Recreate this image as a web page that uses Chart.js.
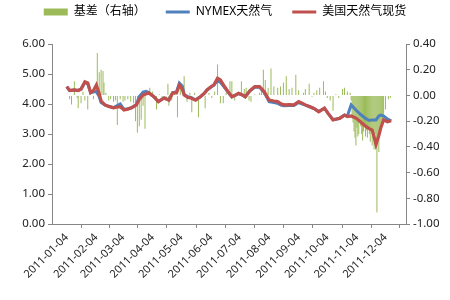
<!DOCTYPE html>
<html>
<head>
<meta charset="utf-8">
<script src="https://cdn.jsdelivr.net/npm/chart.js@4"></script>
<style>
  html, body { margin: 0; padding: 0; background: #fff; }
  #wrap { width: 450px; height: 300px; }
</style>
</head>
<body>
<div id="wrap"><canvas id="mainChart" width="450" height="300"></canvas></div>
<script>
// days counted from 2011-01-04
const monthDays = [0, 31, 59, 90, 120, 151, 181, 212, 243, 273, 304, 334];
const monthLabels = ['2011-01-04', '2011-02-04', '2011-03-04', '2011-04-04', '2011-05-04', '2011-06-04',
  '2011-07-04', '2011-08-04', '2011-09-04', '2011-10-04', '2011-11-04', '2011-12-04'];

const lineDays = [0, 3, 8, 12, 15, 19, 22, 25, 28, 31, 34, 36, 40, 44, 49, 53, 56, 60, 64, 68, 73, 76, 80, 83, 86, 91,
  96, 102, 107, 111, 115, 118, 121, 123, 127, 130, 135, 140, 144, 147, 152, 154, 158, 161, 166, 169, 173, 177, 180,
  184, 187, 192, 197, 202, 207, 212, 217, 221, 225, 228, 233, 238, 243, 247, 250, 255, 259, 264, 270, 274, 279, 283,
  286, 291, 294, 298, 303, 308, 313, 317, 320, 322, 324, 327, 329, 332, 336, 340];

const spotValues = [4.58, 4.45, 4.47, 4.45, 4.5, 4.74, 4.7, 4.38, 4.45, 4.63, 4.35, 4.1, 3.97, 3.92, 3.87, 3.9, 3.91,
  3.8, 3.83, 3.87, 3.97, 4.15, 4.3, 4.33, 4.37, 4.25, 4.08, 4.2, 4.13, 4.37, 4.37, 4.63, 4.5, 4.3, 4.22, 4.2, 4.13,
  4.24, 4.35, 4.47, 4.6, 4.63, 4.86, 4.8, 4.55, 4.41, 4.24, 4.3, 4.36, 4.3, 4.24, 4.45, 4.58, 4.58, 4.41, 4.13, 4.1,
  4.08, 4.0, 3.97, 3.98, 3.97, 4.08, 4.02, 3.97, 3.91, 3.85, 3.74, 3.86, 3.68, 3.47, 3.5, 3.52, 3.63, 3.58, 3.6, 3.53,
  3.4, 3.26, 3.18, 3.13, 2.9, 2.65, 2.95, 3.2, 3.47, 3.41, 3.44];

const nymexValues = [4.58, 4.45, 4.47, 4.45, 4.5, 4.72, 4.68, 4.38, 4.4, 4.42, 4.25, 4.05, 3.97, 3.92, 3.88, 3.95, 4.0,
  3.82, 3.84, 3.88, 3.98, 4.25, 4.4, 4.42, 4.38, 4.25, 4.08, 4.2, 4.14, 4.38, 4.4, 4.7, 4.6, 4.32, 4.24, 4.22, 4.14,
  4.24, 4.35, 4.47, 4.58, 4.62, 4.78, 4.72, 4.52, 4.4, 4.24, 4.3, 4.35, 4.3, 4.24, 4.44, 4.56, 4.56, 4.38, 4.08, 4.05,
  4.02, 3.96, 3.94, 3.95, 3.95, 4.05, 4.0, 3.96, 3.9, 3.85, 3.75, 3.86, 3.68, 3.48, 3.5, 3.53, 3.63, 3.6, 3.97, 3.8,
  3.65, 3.52, 3.45, 3.47, 3.47, 3.47, 3.6, 3.63, 3.6, 3.5, 3.44];

const basisDays = [3, 5, 8, 11, 12, 15, 17, 19, 22, 25, 28, 32, 34, 36, 38, 39, 41, 44, 46, 49, 51, 53, 56, 59, 61, 64,
  67, 70, 72, 74, 76, 78, 80, 82, 84, 87, 90, 94, 97, 100, 104, 106, 107, 110, 113, 116, 119, 123, 126, 129, 131, 134,
  138, 141, 145, 149, 152, 155, 158, 161, 164, 167, 171, 173, 176, 179, 183, 186, 188, 191, 193, 197, 202, 204, 206,
  208, 211, 214, 217, 221, 224, 227, 230, 233, 236, 240, 243, 248, 250, 254, 257, 259, 262, 265, 269, 271, 273, 276,
  279, 282, 285, 289, 291, 294, 297, 298, 299, 300, 301, 302, 303, 304, 305, 306, 307, 308, 309, 310, 311, 312, 313,
  314, 315, 316, 317, 318, 319, 320, 321, 322, 323, 324, 325, 326, 327, 328, 329, 330, 331, 332, 334, 337, 339];

const basisValues = [-0.03, -0.07, 0.11, -0.02, -0.1, -0.06, 0.03, -0.04, -0.11, 0.05, -0.03, 0.33, 0.18, 0.2, 0.19,
  0.1, 0.02, -0.04, -0.03, -0.05, -0.04, -0.23, -0.03, -0.05, -0.04, -0.03, -0.05, -0.06, -0.2, -0.29, -0.24, -0.19,
  -0.08, -0.26, 0.02, 0.06, 0.03, -0.11, 0.01, -0.03, -0.02, 0.09, -0.08, -0.04, 0.02, -0.17, 0.05, 0.15, -0.05, 0.02,
  -0.13, 0.02, -0.17, 0.01, -0.1, 0.02, -0.02, 0.03, 0.24, -0.06, -0.06, 0.02, 0.11, 0.11, -0.04, 0.02, 0.11, 0.05,
  0.06, -0.04, -0.05, 0.01, 0.02, 0.05, 0.2, 0.12, 0.06, 0.21, 0.07, 0.06, 0.07, 0.1, 0.15, 0.05, 0.06, 0.16, 0.04,
  0.02, 0.05, 0.09, -0.01, 0.02, 0.04, 0.06, 0.11, 0.03, -0.02, -0.04, -0.12, 0.01, -0.02, 0.05, 0.06, 0.03, 0.02,
  -0.04, -0.18, -0.21, -0.28, -0.33, -0.39, -0.25, -0.32, -0.3, -0.2, -0.24, -0.3, -0.35, -0.28, -0.22, -0.32, -0.27,
  -0.33, -0.25, -0.3, -0.36, -0.28, -0.39, -0.33, -0.42, -0.3, -0.38, -0.91, -0.35, -0.44, -0.3, -0.28, -0.25,
  -0.2, -0.16, -0.11, -0.03, -0.02];

const leftTicks = [0, 1, 2, 3, 4, 5, 6];
const rightTicks = [-1, -0.8, -0.6, -0.4, -0.2, 0, 0.2, 0.4];

const FONT = "'Noto Sans', 'Noto Sans CJK SC', sans-serif";
const pts = (xs, ys) => xs.map((x, i) => ({ x: x, y: ys[i] }));
const fixTicks = list => axis => { axis.ticks = list.map(v => ({ value: v })); };

// legend sits close to the top, plot starts lower
const legendGap = {
  id: 'legendGap',
  afterInit(chart) {
    const fit = chart.legend.fit;
    chart.legend.fit = function () { fit.call(this); this.height = 58; };
  }
};

new Chart(document.getElementById('mainChart').getContext('2d'), {
  type: 'bar',
  data: {
    datasets: [
      {
        type: 'bar', label: '基差（右轴）', data: pts(basisDays, basisValues), yAxisID: 'y1',
        backgroundColor: '#9BBB59', borderWidth: 0, barThickness: 1, inflateAmount: 0, order: 3
      },
      {
        type: 'line', label: 'NYMEX天然气', data: pts(lineDays, nymexValues), yAxisID: 'y',
        borderColor: '#4F81BD', backgroundColor: '#4F81BD', borderWidth: 3, pointRadius: 0, tension: 0, order: 2
      },
      {
        type: 'line', label: '美国天然气现货', data: pts(lineDays, spotValues), yAxisID: 'y',
        borderColor: '#C0504D', backgroundColor: '#C0504D', borderWidth: 3.2, pointRadius: 0, tension: 0, order: 1
      }
    ]
  },
  plugins: [legendGap],
  options: {
    responsive: false,
    animation: false,
    layout: { padding: { top: -14, left: 0, right: 0, bottom: 0 } },
    plugins: {
      tooltip: { enabled: false },
      legend: {
        position: 'top',
        labels: {
          usePointStyle: true,
          pointStyleWidth: 24,
          boxHeight: 7,
          padding: 20,
          color: '#333',
          font: { family: FONT, size: 12 },
          generateLabels: chart => chart.data.datasets.map((ds, i) => ({
            text: ds.label,
            fillStyle: ds.type === 'bar' ? ds.backgroundColor : ds.borderColor,
            strokeStyle: ds.type === 'bar' ? ds.backgroundColor : ds.borderColor,
            lineWidth: ds.type === 'bar' ? 0 : 3,
            pointStyle: ds.type === 'bar' ? 'rect' : 'line',
            datasetIndex: i
          }))
        }
      }
    },
    scales: {
      x: {
        type: 'linear', min: 0, max: 340,
        afterBuildTicks: fixTicks(monthDays),
        afterFit: s => { s.height = 76; },
        grid: { display: true, drawOnChartArea: false, drawTicks: true, tickLength: 4, color: '#868686' },
        border: { color: '#868686' },
        ticks: {
          autoSkip: false, maxRotation: 45, minRotation: 45, color: '#222',
          font: { family: FONT, size: 11 },
          callback: v => monthLabels[monthDays.indexOf(v)]
        }
      },
      y: {
        position: 'left', min: 0, max: 6,
        afterBuildTicks: fixTicks(leftTicks),
        afterFit: s => { s.width = 52; },
        grid: { display: true, drawOnChartArea: false, tickLength: 4, color: '#868686' },
        border: { color: '#868686' },
        ticks: { color: '#222', font: { family: FONT, size: 11.5 }, callback: v => v.toFixed(2) }
      },
      y1: {
        position: 'right', min: -1, max: 0.4,
        afterBuildTicks: fixTicks(rightTicks),
        afterFit: s => { s.width = 44; },
        grid: { display: true, drawOnChartArea: false, tickLength: 4, color: '#868686' },
        border: { color: '#868686' },
        ticks: { color: '#222', font: { family: FONT, size: 11.5 }, callback: v => v.toFixed(2) }
      }
    }
  }
});
</script>
</body>
</html>
